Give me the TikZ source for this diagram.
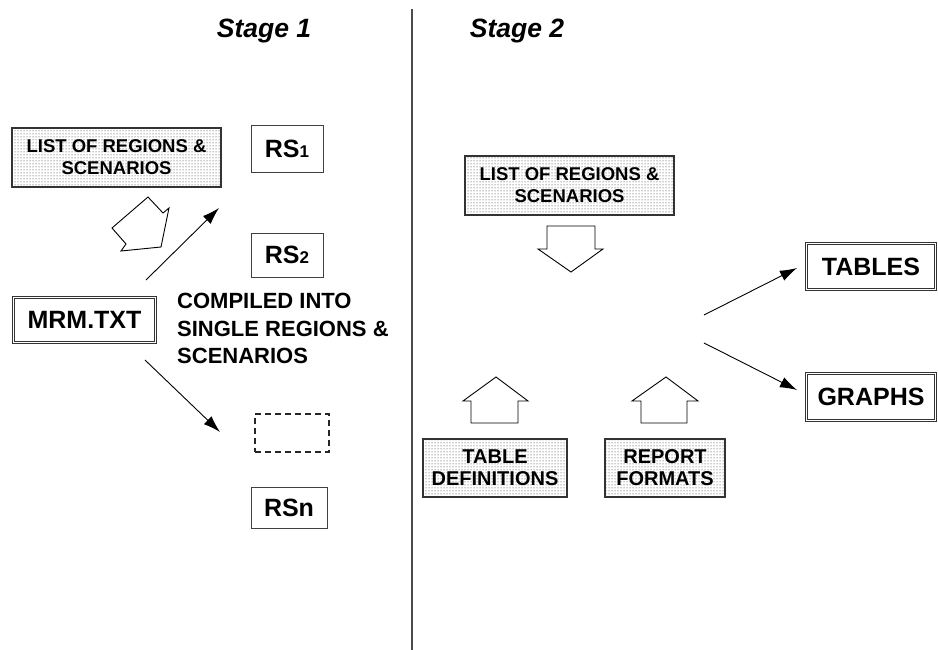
\documentclass[tikz,border=0pt]{standalone}
\usepackage{fontspec}
\setmainfont{Liberation Sans}
\usetikzlibrary{arrows.meta,patterns}
\begin{document}
\begin{tikzpicture}[x=1pt,y=-1pt,
    rsbox/.style = {draw=black!75, line width=0.9pt, inner sep=0pt, font=\fontsize{25}{28}\selectfont\bfseries},
    listbox/.style = {draw=black!80, line width=1.3pt, pattern=dots, pattern color=black!85, inner sep=0pt, align=center, font=\fontsize{18.5}{22}\selectfont\bfseries},
    outbox/.style = {draw=black!80, double, double distance=1.6pt, line width=0.7pt, inner sep=0pt, font=\fontsize{25}{28}\selectfont\bfseries},
    fat/.style = {draw, line width=0.9pt, fill=white, line join=miter},
    link/.style = {-{Latex[length=17pt,width=11pt]}, line width=0.9pt}]
  \useasboundingbox (0,0) rectangle (938,650);
  % headings and divider
  \node[font=\fontsize{26.5}{28}\selectfont\bfseries\itshape] (stage1) at (264,31) {Stage 1};
  \node[font=\fontsize{26.5}{28}\selectfont\bfseries\itshape] (stage2) at (517,31) {Stage 2};
  \coordinate (divtop) at (412,9);
  \coordinate (divbot) at (412,650);
  \draw[black!70, line width=1.2pt] (divtop) -- (divbot);
  %
  % stage 1
  \node[listbox, minimum width=209pt, minimum height=59pt] (list1) at (116.5,157.5) {LIST OF REGIONS \&\\SCENARIOS};
  \node[rsbox, minimum width=72pt, minimum height=47pt] (rs1) at (287,149) {RS{\fontsize{17}{17}\selectfont 1}};
  \node[rsbox, minimum width=72pt, minimum height=44pt] (rs2) at (287,255) {RS{\fontsize{17}{17}\selectfont 2}};
  \node[outbox, minimum width=142pt, minimum height=45pt] (mrm) at (84.5,320) {MRM.TXT};
  \node[draw=black!85, line width=1.3pt, dash pattern=on 6pt off 4pt, minimum width=74pt, minimum height=38pt] (gap) at (292,433) {};
  \node[rsbox, minimum width=76pt, minimum height=41pt] (rsn) at (289,508) {RSn};
  \node[anchor=north west, align=left, inner sep=0pt, font=\fontsize{22}{27.5}\selectfont\bfseries] (note) at (177,293) {COMPILED INTO\\SINGLE REGIONS \&\\SCENARIOS};
  %
  \draw[fat] (148,197) -- (163,213) -- (169,208) -- (161,247) -- (121,251) -- (126,244) -- (112,228) -- cycle;
  \coordinate (mrmup) at (146,280);
  \coordinate (rs1in) at (219,208);
  \coordinate (mrmdown) at (145,360);
  \coordinate (gapin) at (220,432);
  \draw[link] (mrmup) -- (rs1in);
  \draw[link] (mrmdown) -- (gapin);
  %
  % stage 2
  \node[listbox, minimum width=209pt, minimum height=59pt] (list2) at (569.5,185.5) {LIST OF REGIONS \&\\SCENARIOS};
  \draw[fat] (547,226) -- (595,226) -- (595,249) -- (603,249) -- (571,272) -- (538,249) -- (547,249) -- cycle;
  \draw[fat] (471,423) -- (518,423) -- (518,401) -- (528,401) -- (496,377) -- (463,401) -- (471,401) -- cycle;
  \draw[fat] (641,423) -- (687,423) -- (687,401) -- (698,401) -- (666,377) -- (632,401) -- (641,401) -- cycle;
  \node[listbox, minimum width=144pt, minimum height=58pt, font=\fontsize{20}{22}\selectfont\bfseries] (tabdef) at (495,468) {TABLE\\DEFINITIONS};
  \node[listbox, minimum width=120pt, minimum height=58pt, font=\fontsize{20}{22}\selectfont\bfseries] (report) at (665,468) {REPORT\\FORMATS};
  \node[outbox, minimum width=129pt, minimum height=46pt] (tables) at (871,266.5) {TABLES};
  \node[outbox, minimum width=129pt, minimum height=47pt] (graphs) at (871,397) {GRAPHS};
  \coordinate (splitup) at (704,315);
  \coordinate (splitdown) at (704,343);
  \coordinate (tablesin) at (797,268);
  \coordinate (graphsin) at (797,390);
  \draw[link] (splitup) -- (tablesin);
  \draw[link] (splitdown) -- (graphsin);
\end{tikzpicture}
\end{document}
